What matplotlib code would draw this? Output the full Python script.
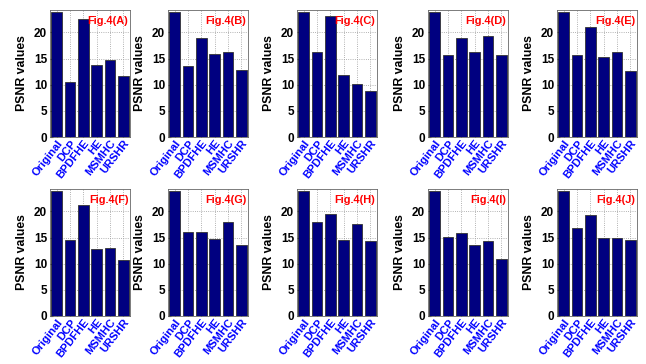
import matplotlib.pyplot as plt

plt.rcParams['font.family'] = ['Liberation Sans', 'DejaVu Sans']

methods = ["Original", "DCP", "BPDFHE", "HE", "MSMHC", "URSHR"]
panels = ["A", "B", "C", "D", "E", "F", "G", "H", "I", "J"]

psnr_a = [24.0, 10.5, 22.5, 13.8, 14.8, 11.7]
psnr_b = [24.0, 13.5, 18.9, 15.9, 16.2, 12.8]
psnr_c = [24.0, 16.3, 23.2, 11.9, 10.1, 8.8]
psnr_d = [24.0, 15.6, 19.0, 16.3, 19.3, 15.7]
psnr_e = [24.0, 15.6, 21.0, 15.3, 16.2, 12.7]
psnr_f = [24.0, 14.5, 21.3, 12.8, 13.0, 10.7]
psnr_g = [24.0, 16.0, 16.0, 14.8, 18.0, 13.6]
psnr_h = [24.0, 18.0, 19.5, 14.5, 17.6, 14.3]
psnr_i = [24.0, 15.1, 15.9, 13.6, 14.3, 11.0]
psnr_j = [24.0, 16.8, 19.3, 15.0, 15.0, 14.5]

all_psnr = [psnr_a, psnr_b, psnr_c, psnr_d, psnr_e,
            psnr_f, psnr_g, psnr_h, psnr_i, psnr_j]

fig = plt.figure(figsize=(6.46, 3.64), dpi=100)
W, H = 646, 364
lefts = [50, 168, 297, 428, 557]
tops = [10, 189]
aw, ah = 80, 127

for k, (name, vals) in enumerate(zip(panels, all_psnr)):
    row, col = divmod(k, 5)
    x0 = lefts[col]
    y0 = tops[row] + ah
    ax = fig.add_axes([x0 / W, 1 - y0 / H, aw / W, ah / H])
    ax.bar(range(len(methods)), vals, width=0.8, color='#000080',
           edgecolor='#333333', linewidth=0.6, zorder=3)
    ax.set_xlim(-0.5, 5.5)
    ax.set_ylim(0, 24.3)
    ax.set_yticks([0, 5, 10, 15, 20])
    ax.set_xticks(range(len(methods)))
    ax.set_xticklabels(methods, rotation=52, ha='right', rotation_mode='anchor',
                       color='blue', fontsize=8, fontweight='bold')
    ax.tick_params(axis='y', labelsize=8.5, length=2, pad=2, direction='in')
    ax.tick_params(axis='x', length=2, pad=1, direction='in')
    for t in ax.get_yticklabels():
        t.set_fontweight('bold')
    ax.grid(True, linestyle=':', color='#999999', linewidth=0.6, zorder=0)
    ax.set_ylabel("PSNR values", fontsize=8.8, fontweight='bold', labelpad=4)
    ax.text(0.98, 0.91, "Fig.4(" + name + ")", transform=ax.transAxes,
            ha='right', va='center', color='red', fontsize=7.8, fontweight='bold',
            zorder=5)
    for s in ax.spines.values():
        s.set_color('#666666')
        s.set_linewidth(0.6)

fig.savefig("out.png", dpi=100)
